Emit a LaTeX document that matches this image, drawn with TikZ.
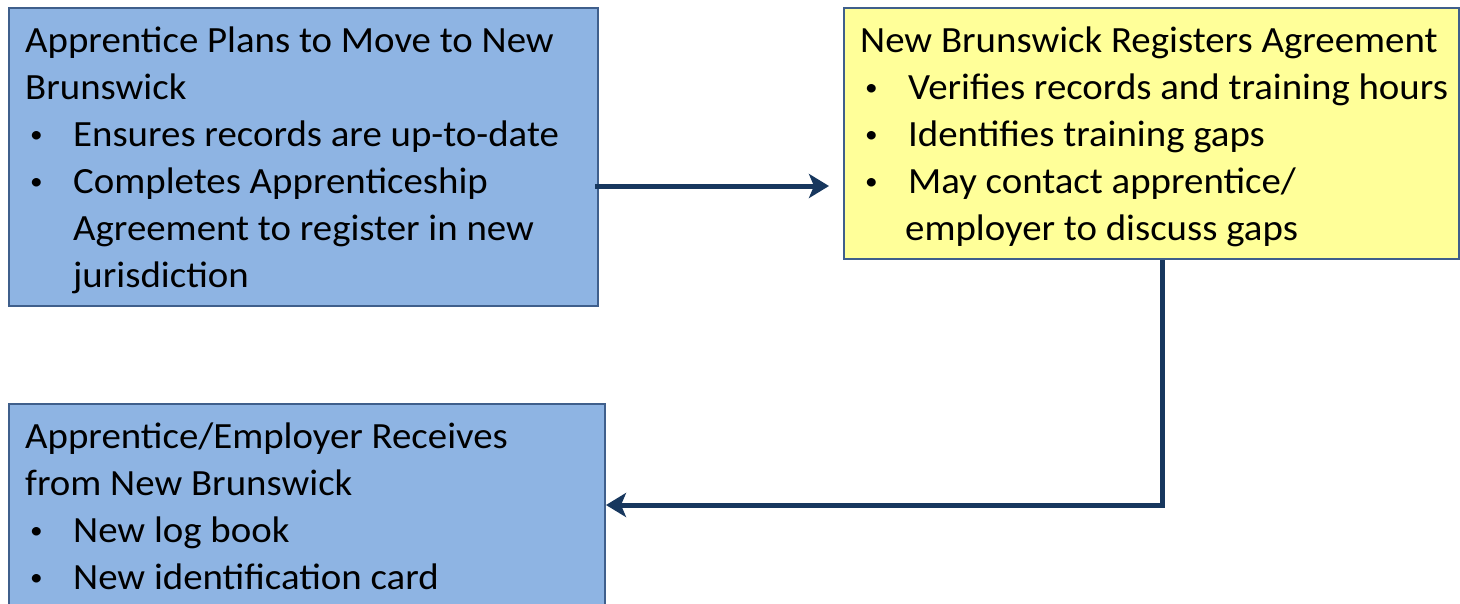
\documentclass[tikz,border=0pt]{standalone}
\usepackage{fontspec}
\setmainfont{Carlito}[FakeStretch=1.05]
\usetikzlibrary{arrows.meta}
\definecolor{boxblue}{HTML}{8EB4E3}
\definecolor{boxyellow}{HTML}{FFFF99}
\definecolor{edgeblue}{HTML}{3F5F8C}
\definecolor{arrowblue}{HTML}{17375E}
\newcommand{\bdot}{\raisebox{4.5pt}{\scalebox{0.65}{•}}}
\newcommand{\bitem}[1]{\makebox[48pt][l]{\hspace{5pt}\bdot}#1}
\newcommand{\bcont}[2]{\hspace{#1}#2}
\begin{document}
\begin{tikzpicture}[x=1pt,y=-1pt,
  boxstyle/.style={draw=edgeblue,line width=2pt,anchor=north west,inner sep=0pt},
  txt/.style={anchor=north west,inner sep=0pt,align=left,font=\fontsize{37}{47}\selectfont,text=black},
  arr/.style={draw=arrowblue,line width=5pt,-{Stealth[length=20pt,width=24pt,inset=5pt]}}]
\useasboundingbox (0,0) rectangle (1460,603);
\node[boxstyle,fill=boxblue,minimum width=589pt,minimum height=298pt] (b1) at (8,7) {};
\node[boxstyle,fill=boxyellow,minimum width=615pt,minimum height=251pt] (b2) at (843,7) {};
\node[boxstyle,fill=boxblue,minimum width=596pt,minimum height=240pt] (b3) at (8,403) {};
\node[txt] (t1) at (25,27) {Apprentice Plans to Move to New\\Brunswick\\\bitem{Ensures records are up-to-date}\\\bitem{Completes Apprenticeship}\\\bcont{48pt}{Agreement to register in new}\\\bcont{48pt}{jurisdiction}};
\node[txt] (t2) at (860,27) {New Brunswick Registers Agreement\\\bitem{Verifies records and training hours}\\\bitem{Identifies training gaps}\\\bitem{May contact apprentice/}\\\bcont{45pt}{employer to discuss gaps}};
\node[txt] (t3) at (25,423) {Apprentice/Employer Receives\\from New Brunswick\\\bitem{New log book}\\\bitem{New identification card}};
\draw[arr,shorten >=14pt] ([xshift=-4pt]b1.east |- 0,186) -- (b2.west |- 0,186);
\draw[arr] (b2.south -| 1162,0) -- (1162,505) -- (b3.east |- 0,505);
\end{tikzpicture}
\end{document}
